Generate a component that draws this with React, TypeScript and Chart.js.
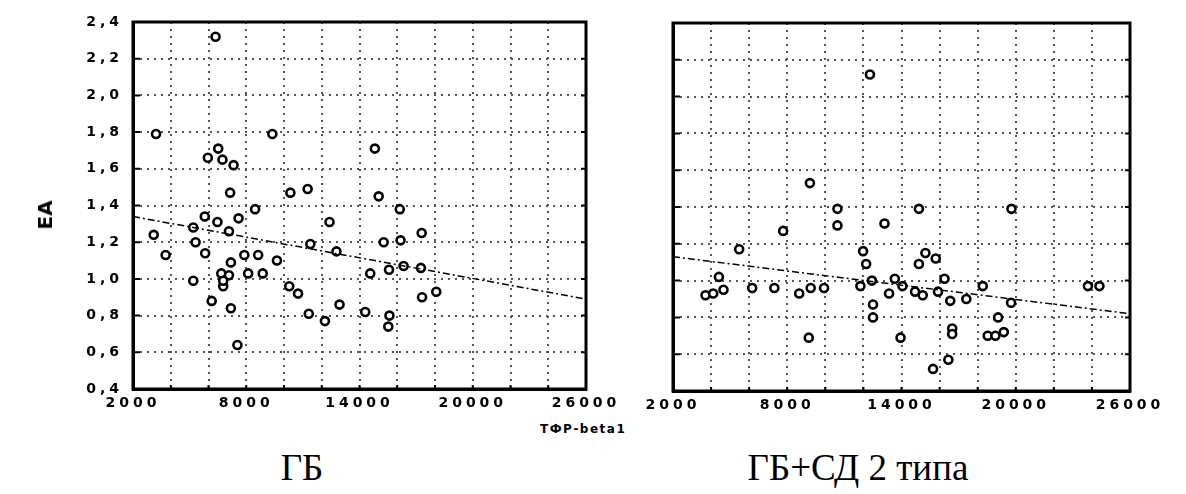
import React, { useEffect, useRef } from "react";
import { Chart, registerables } from "chart.js";

Chart.register(...registerables);

// ---- Data ----
const GB_X = [
  6373, 3220, 9383, 6515, 5966, 6739, 7328, 7145, 10338, 11253, 14813, 15016, 16135, 8467,
  5803, 6474, 7593, 12413, 3098, 5193, 7084, 5315, 5823, 7898, 8630, 3729, 11396, 12779,
  15281, 16176, 17294, 9627, 7186, 16338, 17253, 14569, 15565, 5193, 6678, 7084, 8101, 8874,
  6779, 10278, 10745, 17314, 18067, 6169, 7186, 12942, 11314, 12169, 14304, 15586, 15525, 7532,
  6779,
];
const GB_Y = [
  2.32, 1.79, 1.79, 1.71, 1.66, 1.65, 1.62, 1.47, 1.47, 1.49, 1.71, 1.45, 1.38, 1.38,
  1.34, 1.31, 1.33, 1.31, 1.24, 1.28, 1.26, 1.2, 1.14, 1.13, 1.13, 1.13, 1.19, 1.15,
  1.2, 1.21, 1.25, 1.1, 1.09, 1.07, 1.06, 1.03, 1.05, 0.99, 1.03, 1.02, 1.03, 1.03,
  0.96, 0.96, 0.92, 0.9, 0.93, 0.88, 0.84, 0.86, 0.81, 0.77, 0.82, 0.8, 0.74, 0.64,
  0.99,
];

const GBSD_X = [
  12343, 9190, 10636, 14914, 19775, 10636, 13107, 7784, 5475, 11982, 12143, 15256, 15798,
  14914, 4410, 11841, 12444, 13649, 14051, 13348, 14713, 15115, 15918, 16260, 18268, 3707,
  4109, 4651, 6158, 7322, 8628, 9231, 9933, 16561, 17405, 19755, 23791, 24394, 12504, 12504,
  19072, 16662, 16662, 18529, 18931, 19373, 9130, 13950, 16461, 15657,
];
const GBSD_Y = [
  2.12, 1.53, 1.39, 1.39, 1.39, 1.3, 1.31, 1.27, 1.17, 1.16, 1.09, 1.15, 1.12,
  1.09, 1.02, 0.97, 1.0, 1.01, 0.97, 0.93, 0.94, 0.92, 0.94, 1.01, 0.97, 0.92,
  0.93, 0.95, 0.96, 0.96, 0.93, 0.96, 0.96, 0.89, 0.9, 0.88, 0.97, 0.97, 0.87, 0.8,
  0.8, 0.74, 0.71, 0.7, 0.7, 0.72, 0.69, 0.69, 0.57, 0.52,
];

// regression lines (end points)
const GB_FIT_X = [2000, 26000];
const GB_FIT_Y = [1.34, 0.89];
const GBSD_FIT_X = [2000, 26000];
const GBSD_FIT_Y = [1.13, 0.82];

const X_TICK_LABELS = [2000, 8000, 14000, 20000, 26000];
const X_MIN = 2000;
const X_MAX = 26000;
const X_GRID_STEP = 2000;
const Y_MIN = 0.4;
const Y_MAX = 2.4;
const Y_STEP = 0.2;

const TITLE_LEFT = "ГБ";
const TITLE_RIGHT = "ГБ+СД 2 типа";
const X_AXIS_TITLE = "ТФР-beta1";
const Y_AXIS_TITLE = "ЕА";

const framePlugin = {
  id: "frame",
  beforeDraw(chart: any) {
    chart.ctx.letterSpacing = "4px";
  },
  beforeDatasetsDraw(chart: any) {
    // dotted grid, positioned by the chart's own scales
    const ctx = chart.ctx;
    const a = chart.chartArea;
    const xs = chart.scales.x;
    const ys = chart.scales.y;
    ctx.save();
    ctx.letterSpacing = "0px";
    ctx.strokeStyle = "#555";
    ctx.lineWidth = 2;
    ctx.setLineDash([2, 5]);
    xs.ticks.forEach((t: any) => {
      if (t.value <= X_MIN || t.value >= X_MAX) return;
      const px = Math.round(xs.getPixelForValue(t.value));
      ctx.beginPath();
      ctx.moveTo(px, a.top);
      ctx.lineTo(px, a.bottom);
      ctx.stroke();
    });
    ys.ticks.forEach((t: any) => {
      if (t.value <= Y_MIN + 1e-9 || t.value >= Y_MAX - 1e-9) return;
      const py = Math.round(ys.getPixelForValue(t.value));
      ctx.beginPath();
      ctx.moveTo(a.left, py);
      ctx.lineTo(a.right, py);
      ctx.stroke();
    });
    ctx.restore();
  },
  afterDraw(chart: any) {
    const ctx = chart.ctx;
    const a = chart.chartArea;
    ctx.letterSpacing = "0px";
    ctx.save();
    ctx.strokeStyle = "#000";
    ctx.lineWidth = 3;
    ctx.setLineDash([]);
    ctx.strokeRect(a.left, a.top, a.right - a.left, a.bottom - a.top);
    // inner tick marks
    ctx.lineWidth = 2;
    const ys = chart.scales.y;
    ys.ticks.forEach((t: any) => {
      const py = ys.getPixelForValue(t.value);
      ctx.beginPath();
      ctx.moveTo(a.left, py);
      ctx.lineTo(a.left + 7, py);
      ctx.moveTo(a.right, py);
      ctx.lineTo(a.right - 5, py);
      ctx.stroke();
    });
    const xs = chart.scales.x;
    xs.ticks.forEach((t: any) => {
      const px = xs.getPixelForValue(t.value);
      ctx.beginPath();
      ctx.moveTo(px, a.bottom);
      ctx.lineTo(px, a.bottom - 4);
      ctx.stroke();
    });
    ctx.restore();
  },
};

function buildChart(
  canvas: HTMLCanvasElement,
  xs: number[],
  ys: number[],
  fx: number[],
  fy: number[],
  showY: boolean,
  geom: { yWidth: number; xHeight: number; padTop: number; padRight: number }
) {
  const points = xs.map((x, i) => ({ x, y: ys[i] }));
  const fit = fx.map((x, i) => ({ x, y: fy[i] }));
  const tickFont = () => ({ family: "'DejaVu Sans', sans-serif", weight: "bold" as const, size: 14 });
  const gridOpts = () => ({ display: false, drawTicks: false });
  const borderOpts = () => ({ display: true, color: "#000", width: 3 });
  return new Chart(canvas, {
    type: "scatter",
    data: {
      datasets: [
        {
          type: "line" as any,
          data: fit,
          borderColor: "#000",
          borderWidth: 1.5,
          borderDash: [7, 3, 2, 3],
          pointRadius: 0,
          fill: false,
        },
        {
          data: points,
          pointStyle: "circle",
          pointRadius: 4,
          pointBorderWidth: 2.6,
          borderColor: "#000",
          backgroundColor: "#fff",
        },
      ],
    },
    options: {
      animation: false,
      responsive: false,
      devicePixelRatio: 1,
      layout: { padding: { top: geom.padTop, right: geom.padRight, left: 0, bottom: 0 } },
      plugins: { legend: { display: false }, tooltip: { enabled: false }, title: { display: false } },
      scales: {
        x: {
          type: "linear",
          min: X_MIN,
          max: X_MAX,
          afterFit: (s: any) => {
            s.height = geom.xHeight;
          },
          ticks: {
            stepSize: X_GRID_STEP,
            autoSkip: false,
            maxRotation: 0,
            padding: 6,
            color: "#000",
            font: tickFont(),
            callback: (v: any) => (X_TICK_LABELS.includes(Number(v)) ? String(v) : ""),
          },
          grid: gridOpts(),
          border: borderOpts(),
        },
        y: {
          type: "linear",
          min: Y_MIN,
          max: Y_MAX,
          afterFit: (s: any) => {
            s.width = geom.yWidth;
          },
          ticks: {
            stepSize: Y_STEP,
            autoSkip: false,
            padding: 10,
            color: "#000",
            font: tickFont(),
            callback: (v: any) => (showY ? Number(v).toFixed(1).replace(".", ",") : ""),
          },
          grid: gridOpts(),
          border: borderOpts(),
        },
      },
    },
    plugins: [framePlugin],
  } as any);
}

export default function App() {
  const leftRef = useRef<HTMLCanvasElement>(null);
  const rightRef = useRef<HTMLCanvasElement>(null);

  useEffect(() => {
    const c1 = buildChart(leftRef.current!, GB_X, GB_Y, GB_FIT_X, GB_FIT_Y, true, {
      yWidth: 133,
      xHeight: 31,
      padTop: 22,
      padRight: 54,
    });
    const c2 = buildChart(rightRef.current!, GBSD_X, GBSD_Y, GBSD_FIT_X, GBSD_FIT_Y, false, {
      yWidth: 73,
      xHeight: 29,
      padTop: 23,
      padRight: 56,
    });
    return () => {
      c1.destroy();
      c2.destroy();
    };
  }, []);

  const titleStyle: React.CSSProperties = {
    position: "absolute",
    top: 446,
    height: 44,
    lineHeight: "44px",
    width: 400,
    textAlign: "center",
    fontFamily: "'Liberation Serif', 'Times New Roman', serif",
    fontSize: 37,
    color: "#000",
    whiteSpace: "nowrap",
  };

  return (
    <div
      style={{
        position: "fixed",
        left: 0,
        top: 0,
        width: 1186,
        height: 494,
        background: "#fff",
        overflow: "hidden",
      }}
    >
      <canvas
        ref={leftRef}
        width={640}
        height={420}
        style={{ position: "absolute", left: 0, top: 0, width: 640, height: 420 }}
      />
      <canvas
        ref={rightRef}
        width={586}
        height={420}
        style={{ position: "absolute", left: 600, top: 0, width: 586, height: 420 }}
      />
      <div
        style={{
          position: "absolute",
          left: 540,
          top: 422,
          fontFamily: "'DejaVu Sans', sans-serif",
          fontWeight: "bold",
          fontSize: 12,
          letterSpacing: 1.5,
          color: "#000",
          whiteSpace: "nowrap",
        }}
      >
        {X_AXIS_TITLE}
      </div>
      <div
        style={{
          position: "absolute",
          left: 45,
          top: 215,
          transform: "translate(-50%, -50%) rotate(-90deg)",
          fontFamily: "'DejaVu Sans', sans-serif",
          fontWeight: "bold",
          fontSize: 20,
          color: "#000",
          whiteSpace: "nowrap",
        }}
      >
        {Y_AXIS_TITLE}
      </div>
      <div style={{ ...titleStyle, left: 302 - 200 }}>{TITLE_LEFT}</div>
      <div style={{ ...titleStyle, left: 858 - 200 }}>{TITLE_RIGHT}</div>
    </div>
  );
}
